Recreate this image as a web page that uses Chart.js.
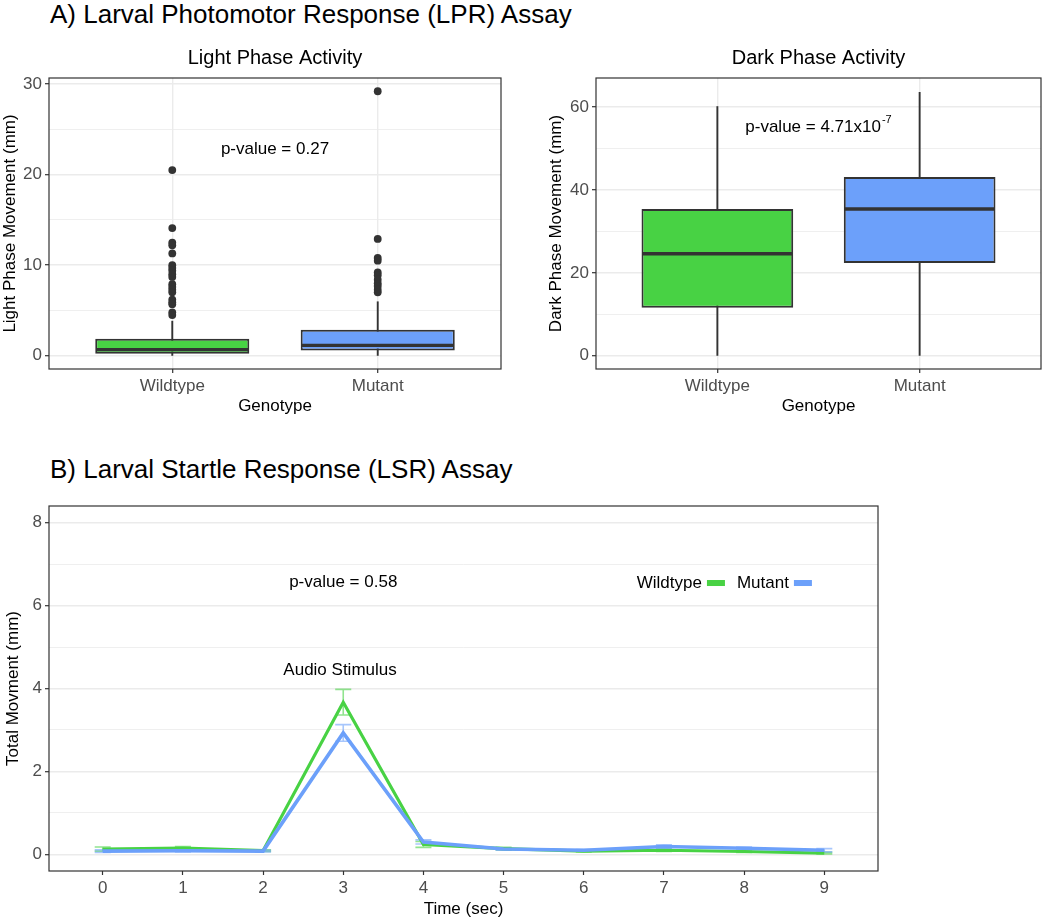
<!DOCTYPE html>
<html>
<head>
<meta charset="utf-8">
<script src="https://cdn.jsdelivr.net/npm/chart.js@4.4.1/dist/chart.umd.min.js"></script>
<style>
  body { margin: 0; background: #fff; width: 1050px; height: 921px; position: relative; overflow: hidden;
         font-family: 'Liberation Sans', Arial, sans-serif; }
  .heading { position: absolute; left: 50px; font-size: 26px; line-height: 30px; color: #000; white-space: nowrap; }
  .panel { position: absolute; }
</style>
</head>
<body>
<div class="heading" style="top:-1px">A) Larval Photomotor Response (LPR) Assay</div>
<div class="panel" style="left:0;top:40px;width:515px;height:380px"><canvas id="lightChart"></canvas></div>
<div class="panel" style="left:520px;top:40px;width:530px;height:380px"><canvas id="darkChart"></canvas></div>
<div class="heading" style="top:454px">B) Larval Startle Response (LSR) Assay</div>
<div class="panel" style="left:0;top:490px;width:900px;height:431px"><canvas id="startleChart"></canvas></div>

<script>
// ---- data ----
var genotypes = ['Wildtype', 'Mutant'];

// box stats: [lower whisker, q1, median, q3, upper whisker]
var lightWildtypeBox = [0, 0.22, 0.68, 1.87, 3.86];
var lightMutantBox = [0, 0.59, 1.15, 2.87, 6.0];
var lightWildtypeOutliers = [20.5, 14.1, 12.5, 12.2, 11.3, 10.0, 9.7, 9.4, 9.0, 8.7, 7.9, 7.6, 7.3, 7.0, 6.2, 5.9, 5.7, 4.8, 4.5];
var lightMutantOutliers = [29.2, 12.9, 10.8, 10.5, 9.2, 8.9, 8.4, 8.0, 7.7, 7.3, 7.0];
var lightMajorTicks = [0, 10, 20, 30];
var lightMinorTicks = [5, 15, 25];

var darkWildtypeBox = [0, 11.6, 24.6, 35.4, 60.2];
var darkMutantBox = [0, 22.4, 35.4, 43.1, 63.6];
var darkMajorTicks = [0, 20, 40, 60];
var darkMinorTicks = [10, 30, 50];

var seconds = [0, 1, 2, 3, 4, 5, 6, 7, 8, 9];
var wildtypeMovement = [0.13, 0.15, 0.09, 3.67, 0.24, 0.14, 0.08, 0.10, 0.07, 0.03];
var wildtypeSem = [0.05, 0.04, 0.02, 0.31, 0.07, 0.03, 0.02, 0.03, 0.02, 0.02];
var mutantMovement = [0.08, 0.09, 0.08, 2.93, 0.30, 0.13, 0.10, 0.19, 0.15, 0.10];
var mutantSem = [0.03, 0.03, 0.02, 0.20, 0.05, 0.03, 0.02, 0.04, 0.03, 0.04];
var startleMajorTicks = [0, 2, 4, 6, 8];
var startleMinorTicks = [1, 3, 5, 7];

var green = '#48D244';
var blue = '#6CA0FA';
var FONT = "'Liberation Sans', Arial, sans-serif";

Chart.defaults.font.family = FONT;
Chart.defaults.font.size = 17;
Chart.defaults.color = '#4D4D4D';
Chart.defaults.animation = false;

// dark border all round the panel, like theme_bw
var panelFrame = {
  id: 'panelFrame',
  afterDraw: function (chart) {
    var ctx = chart.ctx, a = chart.chartArea;
    ctx.save();
    ctx.strokeStyle = '#333333';
    ctx.lineWidth = 1.2;
    ctx.strokeRect(a.left, a.top, a.right - a.left, a.bottom - a.top);
    ctx.restore();
  }
};

// whiskers behind the boxes, medians on top
function boxPlugin(stats) {
  return {
    id: 'boxParts',
    beforeDatasetsDraw: function (chart) {
      var ctx = chart.ctx, x = chart.scales.x, y = chart.scales.y;
      ctx.save();
      ctx.strokeStyle = '#333333';
      ctx.lineWidth = 1.9;
      stats.forEach(function (s, i) {
        var px = x.getPixelForValue(i + 1);
        ctx.beginPath();
        ctx.moveTo(px, y.getPixelForValue(s[0]));
        ctx.lineTo(px, y.getPixelForValue(s[4]));
        ctx.stroke();
      });
      ctx.restore();
    },
    afterDatasetsDraw: function (chart) {
      var ctx = chart.ctx, y = chart.scales.y;
      var bars = chart.getDatasetMeta(0).data;
      ctx.save();
      ctx.strokeStyle = '#333333';
      ctx.lineWidth = 3.4;
      stats.forEach(function (s, i) {
        var b = bars[i];
        var py = y.getPixelForValue(s[2]);
        ctx.beginPath();
        ctx.moveTo(b.x - b.width / 2 + 1, py);
        ctx.lineTo(b.x + b.width / 2 - 1, py);
        ctx.stroke();
      });
      ctx.restore();
    }
  };
}

// text notes placed in data coordinates
function notePlugin(notes) {
  return {
    id: 'notes',
    afterDatasetsDraw: function (chart) {
      var ctx = chart.ctx, x = chart.scales.x, y = chart.scales.y;
      ctx.save();
      ctx.fillStyle = '#000';
      ctx.textBaseline = 'middle';
      ctx.textAlign = 'left';
      notes.forEach(function (n) {
        ctx.font = '17px ' + FONT;
        var w = ctx.measureText(n.text).width;
        var sw = 0;
        if (n.sup) { ctx.font = '11px ' + FONT; sw = ctx.measureText(n.sup).width + 1; }
        var left = x.getPixelForValue(n.x) - (w + sw) / 2;
        var py = y.getPixelForValue(n.y);
        ctx.font = '17px ' + FONT;
        ctx.fillText(n.text, left, py);
        if (n.sup) {
          ctx.font = '11px ' + FONT;
          ctx.fillText(n.sup, left + w + 1, py - 7);
        }
      });
      ctx.restore();
    }
  };
}

function tickList(major, minor) {
  return major.concat(minor).sort(function (a, b) { return a - b; }).map(function (v) { return { value: v }; });
}

function boxChart(id, title, yTitle, boxes, outliers, yMin, yMax, major, minor, leftPad, rightPad, yWidth, notes) {
  var boxData = boxes.map(function (b, i) { return { x: i + 1, y: [b[1], b[3]] }; });
  var outlierData = [];
  outliers.forEach(function (list, i) {
    list.forEach(function (v) { outlierData.push({ x: i + 1, y: v }); });
  });
  return new Chart(document.getElementById(id), {
    type: 'bar',
    data: {
      datasets: [{
        data: boxData,
        backgroundColor: [green, blue],
        borderColor: '#333333',
        borderWidth: 2,
        borderSkipped: false,
        barPercentage: 0.75,
        categoryPercentage: 1
      }, {
        type: 'scatter',
        data: outlierData,
        pointRadius: 3.9,
        backgroundColor: '#333333',
        borderWidth: 0
      }]
    },
    options: {
      responsive: true,
      maintainAspectRatio: false,
      layout: { padding: { left: leftPad, right: rightPad, top: 0, bottom: 0 } },
      plugins: {
        legend: { display: false },
        tooltip: { enabled: false },
        title: {
          display: true, text: title, color: '#000', fullSize: false,
          font: { size: 20, weight: 'normal' }, padding: { top: 6, bottom: 8 }
        }
      },
      scales: {
        x: {
          type: 'linear', min: 0.4, max: 2.6, offset: false,
          afterBuildTicks: function (s) { s.ticks = genotypes.map(function (g, i) { return { value: i + 1 }; }); },
          afterFit: function (s) { s.height = 51; },
          ticks: { autoSkip: false, padding: 3, callback: function (v) { return genotypes[v - 1]; } },
          grid: { offset: false, color: '#EBEBEB', lineWidth: 1.4, tickLength: 4, tickColor: '#333333', tickWidth: 1.2 },
          border: { display: false },
          title: { display: true, text: 'Genotype', color: '#000', font: { size: 17 }, padding: { top: 0, bottom: 3 } }
        },
        y: {
          type: 'linear', min: yMin, max: yMax,
          afterBuildTicks: function (s) { s.ticks = tickList(major, minor); },
          afterFit: function (s) { s.width = yWidth; },
          ticks: { autoSkip: false, padding: 3, callback: function (v) { return major.indexOf(v) >= 0 ? String(v) : ''; } },
          grid: {
            color: '#EBEBEB',
            lineWidth: function (c) { return major.indexOf(c.tick.value) >= 0 ? 1.4 : 0.8; },
            tickLength: 4, tickWidth: 1.2,
            tickColor: function (c) { return major.indexOf(c.tick.value) >= 0 ? '#333333' : 'rgba(0,0,0,0)'; }
          },
          border: { display: false },
          title: { display: true, text: yTitle, color: '#000', font: { size: 17 }, padding: { top: 0, bottom: 0 } }
        }
      }
    },
    plugins: [boxPlugin(boxes), notePlugin(notes), panelFrame]
  });
}

boxChart('lightChart', 'Light Phase Activity', 'Light Phase Movement (mm)',
  [lightWildtypeBox, lightMutantBox], [lightWildtypeOutliers, lightMutantOutliers],
  -1.46, 30.66, lightMajorTicks, lightMinorTicks, 0, 14, 49,
  [{ x: 1.5, y: 22.8, text: 'p-value = 0.27' }]);

boxChart('darkChart', 'Dark Phase Activity', 'Dark Phase Movement (mm)',
  [darkWildtypeBox, darkMutantBox], [[], []],
  -3.19, 67.0, darkMajorTicks, darkMinorTicks, 26, 9, 50,
  [{ x: 1.5, y: 55.2, text: 'p-value = 4.71x10', sup: '-7' }]);

// ---- startle response line chart ----
var errorBars = {
  id: 'errorBars',
  beforeDatasetsDraw: function (chart) {
    var ctx = chart.ctx, x = chart.scales.x, y = chart.scales.y;
    var sets = [[wildtypeMovement, wildtypeSem, 'rgba(72,210,68,0.6)'], [mutantMovement, mutantSem, 'rgba(108,160,250,0.6)']];
    ctx.save();
    ctx.lineWidth = 1.6;
    sets.forEach(function (set) {
      ctx.strokeStyle = set[2];
      seconds.forEach(function (s, i) {
        var lo = y.getPixelForValue(set[0][i] - set[1][i]);
        var hi = y.getPixelForValue(set[0][i] + set[1][i]);
        var l = x.getPixelForValue(s - 0.1), r = x.getPixelForValue(s + 0.1), c = x.getPixelForValue(s);
        ctx.beginPath();
        ctx.moveTo(c, lo); ctx.lineTo(c, hi);
        ctx.moveTo(l, lo); ctx.lineTo(r, lo);
        ctx.moveTo(l, hi); ctx.lineTo(r, hi);
        ctx.stroke();
      });
    });
    ctx.restore();
  }
};

var startleLegend = {
  id: 'startleLegend',
  afterDraw: function (chart) {
    var ctx = chart.ctx, a = chart.chartArea;
    var cy = a.top + 0.211 * (a.bottom - a.top);
    var px = a.left + 0.709 * (a.right - a.left);
    ctx.save();
    ctx.font = '17px ' + FONT;
    ctx.textBaseline = 'middle';
    ctx.textAlign = 'left';
    chart.data.datasets.forEach(function (ds) {
      ctx.fillStyle = '#000';
      ctx.fillText(ds.label, px, cy);
      px += ctx.measureText(ds.label).width + 5;
      ctx.fillStyle = ds.borderColor;
      ctx.fillRect(px, cy - 3, 18, 6);
      px += 18 + 12;
    });
    ctx.restore();
  }
};

new Chart(document.getElementById('startleChart'), {
  type: 'line',
  data: {
    datasets: [{
      label: 'Wildtype',
      data: seconds.map(function (s, i) { return { x: s, y: wildtypeMovement[i] }; }),
      borderColor: green, borderWidth: 3.2, pointRadius: 0, tension: 0, order: 2
    }, {
      label: 'Mutant',
      data: seconds.map(function (s, i) { return { x: s, y: mutantMovement[i] }; }),
      borderColor: blue, borderWidth: 3.6, pointRadius: 0, tension: 0, order: 1
    }]
  },
  options: {
    responsive: true,
    maintainAspectRatio: false,
    layout: { padding: { left: 0, right: 22, top: 16, bottom: 0 } },
    plugins: { legend: { display: false }, tooltip: { enabled: false } },
    scales: {
      x: {
        type: 'linear', min: -0.67, max: 9.67,
        afterBuildTicks: function (s) { s.ticks = seconds.map(function (v) { return { value: v }; }); },
        afterFit: function (s) { s.height = 50; },
        ticks: { autoSkip: false, padding: 3 },
        grid: { drawOnChartArea: false, tickLength: 4, tickColor: '#333333', tickWidth: 1.2 },
        border: { display: false },
        title: { display: true, text: 'Time (sec)', color: '#000', font: { size: 17 }, padding: { top: 0, bottom: 1 } }
      },
      y: {
        type: 'linear', min: -0.4, max: 8.4,
        afterBuildTicks: function (s) { s.ticks = tickList(startleMajorTicks, startleMinorTicks); },
        afterFit: function (s) { s.width = 49; },
        ticks: { autoSkip: false, padding: 3, callback: function (v) { return startleMajorTicks.indexOf(v) >= 0 ? String(v) : ''; } },
        grid: {
          color: '#EBEBEB',
          lineWidth: function (c) { return startleMajorTicks.indexOf(c.tick.value) >= 0 ? 1.4 : 0.8; },
          tickLength: 4, tickWidth: 1.2,
          tickColor: function (c) { return startleMajorTicks.indexOf(c.tick.value) >= 0 ? '#333333' : 'rgba(0,0,0,0)'; }
        },
        border: { display: false },
        title: { display: true, text: 'Total Movment (mm)', color: '#000', font: { size: 17 }, padding: { top: 3, bottom: 0 } }
      }
    }
  },
  plugins: [errorBars, notePlugin([
    { x: 3, y: 6.55, text: 'p-value = 0.58' },
    { x: 2.96, y: 4.43, text: 'Audio Stimulus' }
  ]), startleLegend, panelFrame]
});
</script>
</body>
</html>
